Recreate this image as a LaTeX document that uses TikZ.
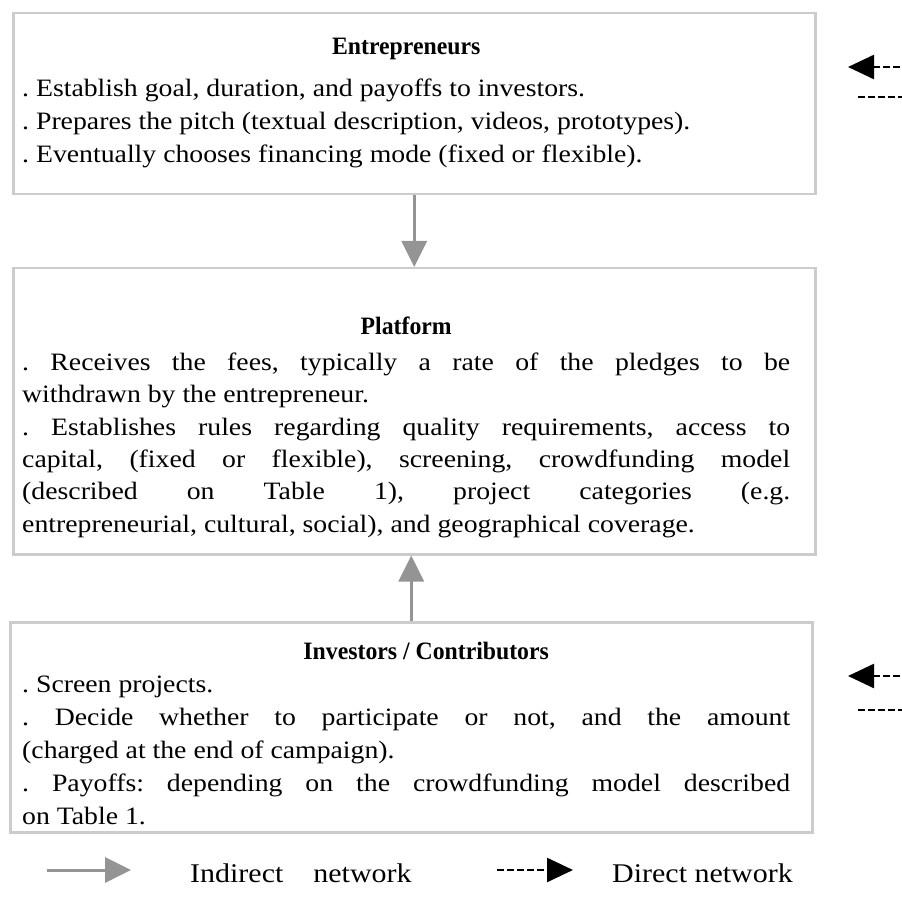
\documentclass[tikz,border=0pt]{standalone}
\usepackage{fontspec}
\setmainfont{Liberation Serif}[FakeStretch=1.11]
\newfontfamily\headfont{Liberation Serif}[FakeStretch=0.95]
\usetikzlibrary{arrows.meta}

\begin{document}
\begin{tikzpicture}[x=1pt,y=-1pt,
  frame/.style={draw=black!20, line width=2.5pt, inner sep=0pt, anchor=north west},
  boxtext/.style={anchor=north west, inner sep=0pt, text width=768pt, align=justify,
    font=\fontsize{25}{33}\selectfont\frenchspacing},
  indirect/.style={draw=black!42, line width=3pt, -{Triangle[length=26pt,width=25pt]}},
  direct/.style={draw=black, line width=2.5pt, dash pattern=on 7pt off 3pt,
    -{Triangle[length=26pt,width=24pt]}},
  legend/.style={anchor=west, inner sep=0pt, font=\fontsize{27}{30}\selectfont}]

\useasboundingbox (0,0) rectangle (902,901);
\clip (0,0) rectangle (902,901);

% Entrepreneurs
\node[frame, minimum width=802pt, minimum height=181pt] (entreBox) at (12,12) {};
\node[boxtext] (entreText) at (22,38) {\makebox[\linewidth]{\headfont\bfseries Entrepreneurs}\\[9pt]
. Establish goal, duration, and payoffs to investors.\\
. Prepares the pitch (textual description, videos, prototypes).\\
. Eventually chooses financing mode (fixed or flexible).};

% Platform
\node[frame, minimum width=802pt, minimum height=286pt] (platBox) at (12,267) {};
\node[boxtext, font=\fontsize{25}{32.4}\selectfont\frenchspacing] (platText) at (22,317)
{\makebox[\linewidth]{\headfont\bfseries Platform}\\[3pt]
. Receives the fees, typically a rate of the pledges to be\linebreak
withdrawn by the entrepreneur.\\
. Establishes rules regarding quality requirements, access to\linebreak
capital, (fixed or flexible), screening, crowdfunding model\linebreak
(described on Table 1), project categories (e.g.\linebreak
entrepreneurial, cultural, social), and geographical coverage.};

% Investors
\node[frame, minimum width=802pt, minimum height=210pt] (invBox) at (9,621) {};
\node[boxtext] (invText) at (22,642)
{\makebox[\linewidth]{\hspace{40pt}\headfont\bfseries Investors / Contributors}\\
. Screen projects.\\
. Decide whether to participate or not, and the amount\linebreak
(charged at the end of campaign).\\
. Payoffs: depending on the crowdfunding model described\linebreak
on Table 1.};

\draw[indirect] (entreBox.south) -- (platBox.north);
\draw[indirect] (invBox.north) -- (platBox.south -| invBox.north);

% direct links, cut off at the right
\coordinate (topTip) at (848,67);
\coordinate (topTail) at (930,67);
\coordinate (topBack) at (858,97);
\coordinate (topEnd) at (950,97);
\draw[direct] (topTail) -- (topTip);
\draw[direct] (topBack) -- (topEnd);

\coordinate (botTip) at (848,676);
\coordinate (botTail) at (930,676);
\coordinate (botBack) at (858,710);
\coordinate (botEnd) at (950,710);
\draw[direct] (botTail) -- (botTip);
\draw[direct] (botBack) -- (botEnd);

% legend
\coordinate (indA) at (47,870);
\coordinate (indB) at (131,870);
\draw[indirect] (indA) -- (indB);
\node[legend] (indLabel) at (190,873) {Indirect\hspace{30pt}network};
\coordinate (dirA) at (497,870);
\coordinate (dirB) at (573,870);
\draw[direct] (dirA) -- (dirB);
\node[legend] (dirLabel) at (612,873) {Direct network};

\end{tikzpicture}
\end{document}
